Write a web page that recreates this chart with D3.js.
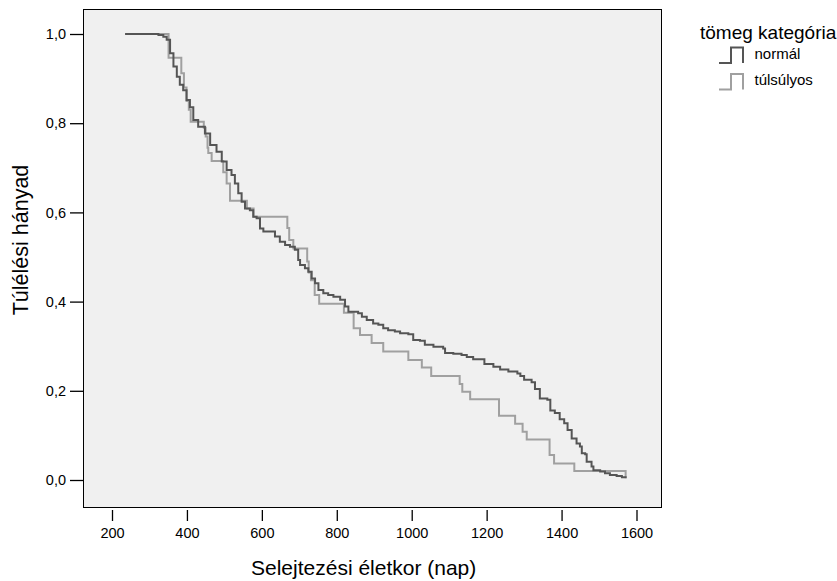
<!DOCTYPE html>
<html>
<head>
<meta charset="utf-8">
<script src="https://cdn.jsdelivr.net/npm/d3@7"></script>
<style>
    body { margin: 0; background: #fff; }
    text { font-family: Arial, "Liberation Sans", sans-serif; }
</style>
</head>
<body>
<svg id="chart" width="837" height="581"></svg>
<script>
// Kaplan-Meier steps: time (nap) and survival after the step
var normalTime = [235, 324, 337, 346, 355, 364, 373, 381, 390, 399, 408, 417, 430, 448, 462, 479,
    493, 506, 519, 528, 537, 546, 555, 568, 577, 586, 595, 604, 635, 648, 662, 675, 688, 697, 702,
    715, 724, 733, 742, 751, 764, 777, 791, 809, 822, 831, 857, 867, 880, 897, 911, 924, 937, 955,
    969, 991, 1004, 1022, 1035, 1058, 1084, 1089, 1111, 1133, 1147, 1164, 1194, 1218, 1236, 1258,
    1282, 1290, 1300, 1320, 1329, 1342, 1362, 1370, 1382, 1395, 1407, 1416, 1427, 1440, 1449, 1454,
    1463, 1467, 1480, 1485, 1503, 1516, 1529, 1547, 1561, 1571];
var normalSurv = [1.0, 0.998, 0.994, 0.987, 0.957, 0.927, 0.904, 0.886, 0.874, 0.852, 0.836, 0.807,
    0.792, 0.777, 0.751, 0.736, 0.714, 0.695, 0.684, 0.665, 0.643, 0.624, 0.609, 0.605, 0.590, 0.587,
    0.564, 0.557, 0.546, 0.534, 0.527, 0.523, 0.516, 0.493, 0.482, 0.475, 0.467, 0.452, 0.441, 0.426,
    0.419, 0.415, 0.411, 0.404, 0.389, 0.377, 0.374, 0.366, 0.359, 0.351, 0.348, 0.340, 0.336, 0.333,
    0.329, 0.327, 0.314, 0.312, 0.303, 0.299, 0.295, 0.285, 0.283, 0.280, 0.276, 0.271, 0.260, 0.254,
    0.248, 0.243, 0.239, 0.233, 0.225, 0.219, 0.204, 0.183, 0.180, 0.156, 0.150, 0.136, 0.127, 0.112,
    0.093, 0.082, 0.075, 0.060, 0.058, 0.041, 0.030, 0.022, 0.019, 0.015, 0.011, 0.009, 0.006, 0.004];

var overTime = [235, 351, 385, 392, 399, 405, 410, 445, 450, 455, 457, 466, 497, 506, 515, 560, 578,
    668, 673, 684, 721, 725, 731, 741, 753, 819, 845, 862, 893, 924, 991, 1027, 1052, 1128, 1135,
    1156, 1233, 1276, 1296, 1307, 1368, 1380, 1434, 1571];
var overSurv = [1.0, 0.947, 0.912, 0.88, 0.85, 0.83, 0.803, 0.79, 0.77, 0.745, 0.733, 0.715, 0.69,
    0.665, 0.626, 0.609, 0.590, 0.565, 0.538, 0.519, 0.49, 0.465, 0.448, 0.415, 0.395, 0.375, 0.340,
    0.325, 0.307, 0.288, 0.269, 0.252, 0.233, 0.215, 0.198, 0.181, 0.144, 0.126, 0.108, 0.091, 0.056,
    0.037, 0.020, 0.004];

var xTicks = [200, 400, 600, 800, 1000, 1200, 1400, 1600];
var yTicks = [0, 0.2, 0.4, 0.6, 0.8, 1.0];
var groupNames = ['normál', 'túlsúlyos'];
var groupColors = ['#555555', '#a0a0a0'];

var svg = d3.select('#chart');

// plot frame in pixels (not "top": that one is window.top)
var frameL = 83, frameR = 661, frameT = 9, frameB = 507;

var x = d3.scaleLinear().domain([200, 1600]).range([112, 636.5]);
var y = d3.scaleLinear().domain([0, 1]).range([480, 34]);

svg.append('rect')
    .attr('x', frameL + 0.5).attr('y', frameT + 0.5)
    .attr('width', frameR - frameL).attr('height', frameB - frameT)
    .attr('fill', '#f0f0f0')
    .attr('stroke', '#000').attr('stroke-width', 1);

// x ticks sit below the frame, no axis line
var xAxis = svg.append('g')
    .attr('transform', 'translate(0,' + (frameB + 3) + ')')
    .call(d3.axisBottom(x).tickValues(xTicks).tickSize(11).tickPadding(7)
        .tickFormat(d3.format('d')));
xAxis.select('.domain').remove();
xAxis.selectAll('line').attr('stroke', '#000').attr('stroke-width', 1.3);
xAxis.selectAll('text').attr('font-size', 14.5).attr('fill', '#000')
    .attr('font-family', 'Arial, "Liberation Sans", sans-serif');

var fmtComma = function (d) {
    return d3.format('.1f')(d).replace('.', ',');
};
var yAxis = svg.append('g')
    .attr('transform', 'translate(' + frameL + ',0)')
    .call(d3.axisLeft(y).tickValues(yTicks).tickSize(13).tickPadding(4).tickFormat(fmtComma));
yAxis.select('.domain').remove();
yAxis.selectAll('line').attr('stroke', '#000').attr('stroke-width', 1.3);
yAxis.selectAll('text').attr('font-size', 14.5).attr('fill', '#000')
    .attr('font-family', 'Arial, "Liberation Sans", sans-serif');

svg.append('text')
    .attr('x', 251).attr('y', 575)
    .attr('font-size', 21)
    .text('Selejtezési életkor (nap)');

svg.append('text')
    .attr('transform', 'translate(28,' + 240 + ') rotate(-90)')
    .attr('text-anchor', 'middle').attr('font-size', 21.5)
    .text('Túlélési hányad');

var line = d3.line()
    .x(function (d) { return x(d[0]); })
    .y(function (d) { return y(d[1]); })
    .curve(d3.curveStepAfter);

var series = [
    d3.zip(overTime, overSurv),
    d3.zip(normalTime, normalSurv)
];
var seriesColor = [groupColors[1], groupColors[0]];

svg.selectAll('path.km')
    .data(series)
    .enter()
    .append('path')
    .attr('class', 'km')
    .attr('d', line)
    .attr('fill', 'none')
    .attr('stroke', function (d, i) { return seriesColor[i]; })
    .attr('stroke-width', 2);

// legend
var legend = svg.append('g');
legend.append('text')
    .attr('x', 700).attr('y', 39)
    .attr('font-size', 19)
    .text('tömeg kategória');

var items = legend.selectAll('g.item')
    .data(groupNames)
    .enter()
    .append('g')
    .attr('class', 'item')
    .attr('transform', function (d, i) { return 'translate(0,' + (i * 26.5) + ')'; });

items.append('path')
    .attr('d', 'M719,63 H731 V47.5 H743 V63')
    .attr('fill', 'none')
    .attr('stroke', function (d, i) { return groupColors[i]; })
    .attr('stroke-width', 2);

items.append('text')
    .attr('x', 754.5).attr('y', 58.5)
    .attr('font-size', 15)
    .text(function (d) { return d; });
</script>
</body>
</html>
